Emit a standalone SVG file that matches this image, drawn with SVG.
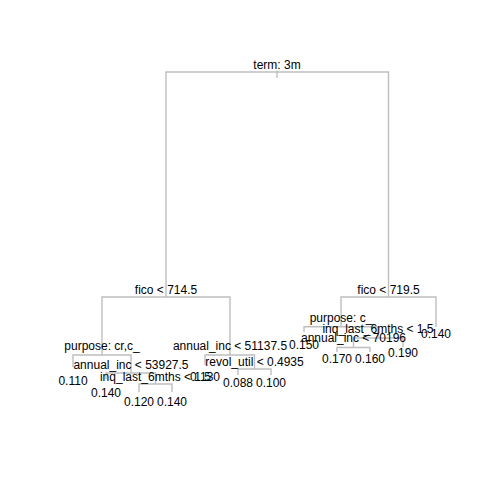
<svg xmlns="http://www.w3.org/2000/svg" width="480" height="480" viewBox="0 0 480 480">
  <style>
    .edge { fill: none; stroke: #bebebe; stroke-width: 1.4; }
    .lbl { font-family: "Liberation Sans", Arial, sans-serif; font-size: 12px; fill: #000; text-anchor: middle; }
  </style>
  <rect width="480" height="480" fill="#fff"/>

  <!-- tree branches: each split draws its drop and its horizontal bar -->
  <g id="connectors">
    <path class="edge" d="M277,70.5 V78"/>
    <!-- root split -->
    <path class="edge" d="M166,297 V72 H388.5 V297"/>
    <!-- fico < 714.5 -->
    <path class="edge" d="M102,355 V297 H230 V355"/>
    <!-- fico < 719.5 -->
    <path class="edge" d="M341,326.7 V297 H436 V327"/>
    <!-- purpose: cr,c_ -->
    <path class="edge" d="M73,367 V355 H131 V373"/>
    <!-- annual_inc < 53927.5 -->
    <path class="edge" d="M106,379 V373 H155.5 V384"/>
    <!-- inq_last_6mths < 1.5 (left) -->
    <path class="edge" d="M139,392 V384 H172 V392"/>
    <!-- annual_inc < 51137.5 -->
    <path class="edge" d="M205,365 V355 H254.5 V369"/>
    <!-- revol_util < 0.4935 -->
    <path class="edge" d="M238,375 V369 H271 V375"/>
    <!-- purpose: c_ -->
    <path class="edge" d="M304,332 V326.7 H378 V338"/>
    <!-- inq_last_6mths < 1.5 (right) -->
    <path class="edge" d="M353.5,347.5 V338 H403 V347"/>
    <!-- annual_inc < 70196 -->
    <path class="edge" d="M337,352 V347.5 H370 V352"/>
  </g>

  <!-- split labels -->
  <g id="n_root"><text class="lbl" x="277" y="69">term: 3m</text></g>
  <g id="n_fico_l"><text class="lbl" x="166" y="294">fico &lt; 714.5</text></g>
  <g id="n_fico_r"><text class="lbl" x="388.5" y="294">fico &lt; 719.5</text></g>
  <g id="n_purpose_l"><text class="lbl" x="102" y="350">purpose: cr,c_</text></g>
  <g id="n_annual_l"><text class="lbl" x="131" y="369">annual_inc &lt; 53927.5</text></g>
  <g id="n_inq_l"><text class="lbl" x="155.5" y="381">inq_last_6mths &lt; 1.5</text></g>
  <g id="n_annual_m"><text class="lbl" x="230" y="350">annual_inc &lt; 51137.5</text></g>
  <g id="n_revol"><text class="lbl" x="254.5" y="366">revol_util &lt; 0.4935</text></g>
  <g id="n_purpose_r"><text class="lbl" x="341" y="321.5">purpose: c_</text></g>
  <g id="n_inq_r"><text class="lbl" x="378" y="333">inq_last_6mths &lt; 1.5</text></g>
  <g id="n_annual_r"><text class="lbl" x="353.5" y="342">annual_inc &lt; 70196</text></g>

  <!-- leaf values -->
  <g id="leaf1"><text class="lbl" x="73" y="385">0.110</text></g>
  <g id="leaf2"><text class="lbl" x="106" y="396.5">0.140</text></g>
  <g id="leaf3"><text class="lbl" x="139" y="405.5">0.120</text></g>
  <g id="leaf4"><text class="lbl" x="172" y="405.5">0.140</text></g>
  <g id="leaf5"><text class="lbl" x="205" y="380.5">0.130</text></g>
  <g id="leaf6"><text class="lbl" x="238" y="387">0.088</text></g>
  <g id="leaf7"><text class="lbl" x="271" y="387">0.100</text></g>
  <g id="leaf8"><text class="lbl" x="304" y="348.5">0.150</text></g>
  <g id="leaf9"><text class="lbl" x="337" y="363">0.170</text></g>
  <g id="leaf10"><text class="lbl" x="370" y="363">0.160</text></g>
  <g id="leaf11"><text class="lbl" x="403" y="356.5">0.190</text></g>
  <g id="leaf12"><text class="lbl" x="436" y="337.5">0.140</text></g>
</svg>
